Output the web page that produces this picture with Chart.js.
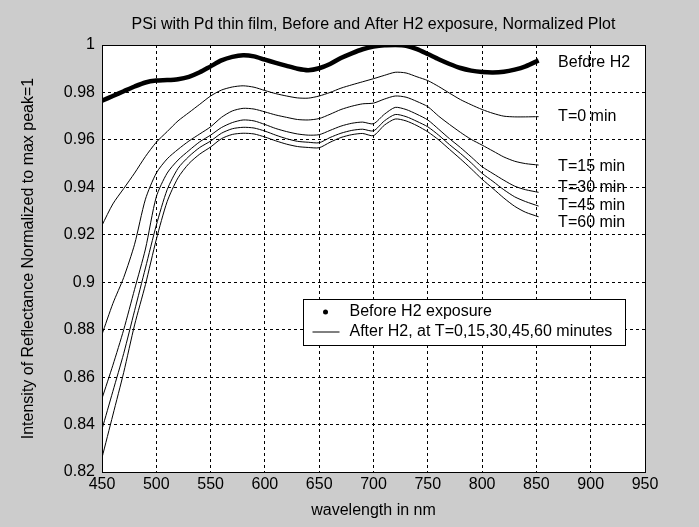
<!DOCTYPE html>
<html>
<head>
<meta charset="utf-8">
<script src="https://cdn.jsdelivr.net/npm/chart.js@4"></script>
<style>
  html, body { margin: 0; padding: 0; background: #cccccc; }
  #wrap { width: 699px; height: 527px; }
</style>
</head>
<body>
<div id="wrap"><canvas id="reflectChart" width="699" height="527"></canvas></div>
<script>
// wavelength samples (nm)
const wavelengths = [450, 460, 470, 480, 490, 500, 510, 520, 530, 540,
                     550, 560, 570, 580, 590, 600, 610, 620, 630, 640,
                     650, 660, 670, 680, 690, 700, 710, 720, 730, 740,
                     750, 760, 770, 780, 790, 800, 810, 820, 830, 840, 852];

const beforeH2 = [0.9765, 0.9785, 0.9805, 0.9825, 0.9842, 0.9850, 0.9852, 0.9856, 0.9866, 0.9885,
                  0.9910, 0.9935, 0.9950, 0.9957, 0.9952, 0.9938, 0.9925, 0.9912, 0.9900, 0.9894,
                  0.9902, 0.9920, 0.9945, 0.9965, 0.9982, 0.9993, 0.9999, 1.0000, 0.9997, 0.9983,
                  0.9962, 0.9940, 0.9920, 0.9903, 0.9892, 0.9886, 0.9884, 0.9887, 0.9896, 0.9910, 0.9935];

const afterT0 = [0.9240, 0.9330, 0.9395, 0.9460, 0.9530, 0.9590, 0.9635, 0.9680, 0.9715, 0.9750,
                 0.9785, 0.9810, 0.9823, 0.9828, 0.9822, 0.9808, 0.9795, 0.9785, 0.9777, 0.9776,
                 0.9785, 0.9800, 0.9818, 0.9832, 0.9845, 0.9858, 0.9872, 0.9885, 0.9882, 0.9866,
                 0.9850, 0.9825, 0.9797, 0.9770, 0.9748, 0.9728, 0.9712, 0.9700, 0.9697, 0.9697, 0.9698];

const afterT15 = [0.8780, 0.8910, 0.9020, 0.9160, 0.9350, 0.9460, 0.9520, 0.9560, 0.9595, 0.9625,
                  0.9655, 0.9695, 0.9722, 0.9733, 0.9730, 0.9718, 0.9705, 0.9695, 0.9686, 0.9684,
                  0.9690, 0.9708, 0.9728, 0.9742, 0.9752, 0.9755, 0.9772, 0.9785, 0.9780, 0.9762,
                  0.9740, 0.9700, 0.9665, 0.9632, 0.9602, 0.9578, 0.9553, 0.9528, 0.9510, 0.9500, 0.9494];

const afterT30 = [0.8510, 0.8650, 0.8800, 0.8970, 0.9140, 0.9360, 0.9460, 0.9515, 0.9555, 0.9592,
                  0.9620, 0.9652, 0.9673, 0.9684, 0.9680, 0.9665, 0.9648, 0.9635, 0.9625, 0.9620,
                  0.9622, 0.9640, 0.9658, 0.9670, 0.9675, 0.9668, 0.9708, 0.9737, 0.9728, 0.9708,
                  0.9684, 0.9645, 0.9605, 0.9568, 0.9528, 0.9487, 0.9458, 0.9430, 0.9405, 0.9390, 0.9379];

const afterT45 = [0.8380, 0.8540, 0.8700, 0.8880, 0.9060, 0.9240, 0.9390, 0.9480, 0.9530, 0.9568,
                  0.9595, 0.9628, 0.9647, 0.9653, 0.9650, 0.9637, 0.9620, 0.9605, 0.9594, 0.9590,
                  0.9588, 0.9610, 0.9628, 0.9640, 0.9645, 0.9638, 0.9680, 0.9707, 0.9698, 0.9678,
                  0.9655, 0.9620, 0.9580, 0.9543, 0.9503, 0.9459, 0.9425, 0.9390, 0.9360, 0.9340, 0.9321];

const afterT60 = [0.8260, 0.8440, 0.8620, 0.8820, 0.8990, 0.9180, 0.9340, 0.9440, 0.9500, 0.9540,
                  0.9570, 0.9605, 0.9623, 0.9628, 0.9625, 0.9612, 0.9596, 0.9582, 0.9572, 0.9568,
                  0.9567, 0.9590, 0.9610, 0.9622, 0.9627, 0.9618, 0.9662, 0.9688, 0.9680, 0.9660,
                  0.9634, 0.9600, 0.9560, 0.9520, 0.9478, 0.9434, 0.9395, 0.9355, 0.9320, 0.9295, 0.9276];

// text put next to the curve ends
const curveLabels = ['Befdre H2', 'T=0 min', 'T=15 min', 'T=30 min', 'T=45 min', 'T=60 min'];
const curveLabelX = 870;
const curveLabelY = [0.9924, 0.9700, 0.9486, 0.9401, 0.9321, 0.9250];

const legendLabels = ['Before H2 exposure', 'After H2, at T=0,15,30,45,60 minutes'];

const FONT = '"Liberation Sans", Arial, sans-serif';

function toPoints(values) {
    return values.map((v, i) => ({ x: wavelengths[i], y: v }));
}

const afterSeries = [afterT0, afterT15, afterT30, afterT45, afterT60];

const datasets = [{
    label: legendLabels[0],
    data: toPoints(beforeH2),
    borderColor: '#000',
    borderWidth: 4.5,
    pointRadius: 0,
    tension: 0.25
}];
afterSeries.forEach(s => {
    datasets.push({
        label: legendLabels[1],
        data: toPoints(s),
        borderColor: '#000',
        borderWidth: 1,
        pointRadius: 0,
        tension: 0.25
    });
});

const plotDecor = {
    id: 'plotDecor',
    beforeDraw(chart) {
        const { ctx, chartArea: a } = chart;
        ctx.save();
        ctx.fillStyle = '#cccccc';
        ctx.fillRect(0, 0, chart.width, chart.height);
        ctx.fillStyle = '#ffffff';
        ctx.fillRect(a.left, a.top, a.right - a.left, a.bottom - a.top);
        ctx.restore();
    },
    afterDraw(chart) {
        const { ctx, chartArea: a } = chart;
        const xs = chart.scales.x, ys = chart.scales.y;
        ctx.save();

        // axes box
        const l = Math.round(a.left) + 0.5, t = Math.round(a.top) + 0.5;
        const r = Math.round(a.right) + 0.5, b = Math.round(a.bottom) + 0.5;
        ctx.strokeStyle = '#000';
        ctx.lineWidth = 1;
        ctx.setLineDash([]);
        ctx.strokeRect(l, t, r - l, b - t);

        // labels at the curve ends
        ctx.font = '16px ' + FONT;
        ctx.fillStyle = '#000';
        ctx.textAlign = 'left';
        ctx.textBaseline = 'middle';
        curveLabels.forEach((txt, i) => {
            ctx.fillText(txt, xs.getPixelForValue(curveLabelX), ys.getPixelForValue(curveLabelY[i]));
        });

        // legend box
        const lx = Math.round(a.left) + 201 + 0.5, ly = Math.round(a.top) + 254 + 0.5;
        const lw = 322, lh = 46;
        ctx.fillStyle = '#ffffff';
        ctx.fillRect(lx, ly, lw, lh);
        ctx.strokeRect(lx, ly, lw, lh);
        ctx.fillStyle = '#000';
        ctx.beginPath();
        ctx.arc(lx + 22, ly + 12.5, 2.5, 0, Math.PI * 2);
        ctx.fill();
        ctx.beginPath();
        ctx.moveTo(lx + 9, ly + 32.5);
        ctx.lineTo(lx + 36, ly + 32.5);
        ctx.stroke();
        ctx.fillText(legendLabels[0], lx + 46, ly + 12.5);
        ctx.fillText(legendLabels[1], lx + 46, ly + 32.5);
        ctx.restore();
    }
};

const ctx = document.getElementById('reflectChart');
new Chart(ctx, {
    type: 'line',
    data: { datasets: datasets },
    plugins: [plotDecor],
    options: {
        responsive: false,
        animation: false,
        devicePixelRatio: 1,
        layout: { padding: { top: 10, right: 54, left: 0, bottom: 0 } },
        plugins: {
            legend: { display: false },
            tooltip: { enabled: false },
            title: {
                display: true,
                fullSize: false,
                text: 'PSi with Pd thin film, Before and After H2 exposure, Normalized Plot',
                color: '#000',
                font: { family: FONT, size: 16, weight: 'normal', lineHeight: 1.25 },
                padding: { top: 5, bottom: 10 }
            }
        },
        scales: {
            x: {
                type: 'linear',
                min: 450,
                max: 950,
                afterFit: s => { s.height = 55; },
                ticks: {
                    stepSize: 50,
                    autoSkip: false,
                    maxRotation: 0,
                    padding: 3,
                    color: '#000',
                    font: { family: FONT, size: 16, lineHeight: 1.2 }
                },
                grid: { color: '#000', lineWidth: 1, drawTicks: false },
                border: { display: false, dash: [3, 3] },
                title: {
                    display: true,
                    text: 'wavelength in nm',
                    color: '#000',
                    font: { family: FONT, size: 16, lineHeight: 1.2 },
                    padding: { top: 0, bottom: 7 }
                }
            },
            y: {
                min: 0.82,
                max: 1,
                afterFit: s => { s.width = 102; },
                ticks: {
                    stepSize: 0.02,
                    autoSkip: false,
                    padding: 7,
                    color: '#000',
                    font: { family: FONT, size: 16, lineHeight: 1.2 },
                    callback: v => String(Number(v.toFixed(2)))
                },
                grid: { color: '#000', lineWidth: 1, drawTicks: false },
                border: { display: false, dash: [3, 3] },
                title: {
                    display: true,
                    text: 'Intensity of Reflectance Normalized to max peak=1',
                    color: '#000',
                    font: { family: FONT, size: 16, lineHeight: 1.2 },
                    padding: { top: 19, bottom: 0 }
                }
            }
        }
    }
});
</script>
</body>
</html>
